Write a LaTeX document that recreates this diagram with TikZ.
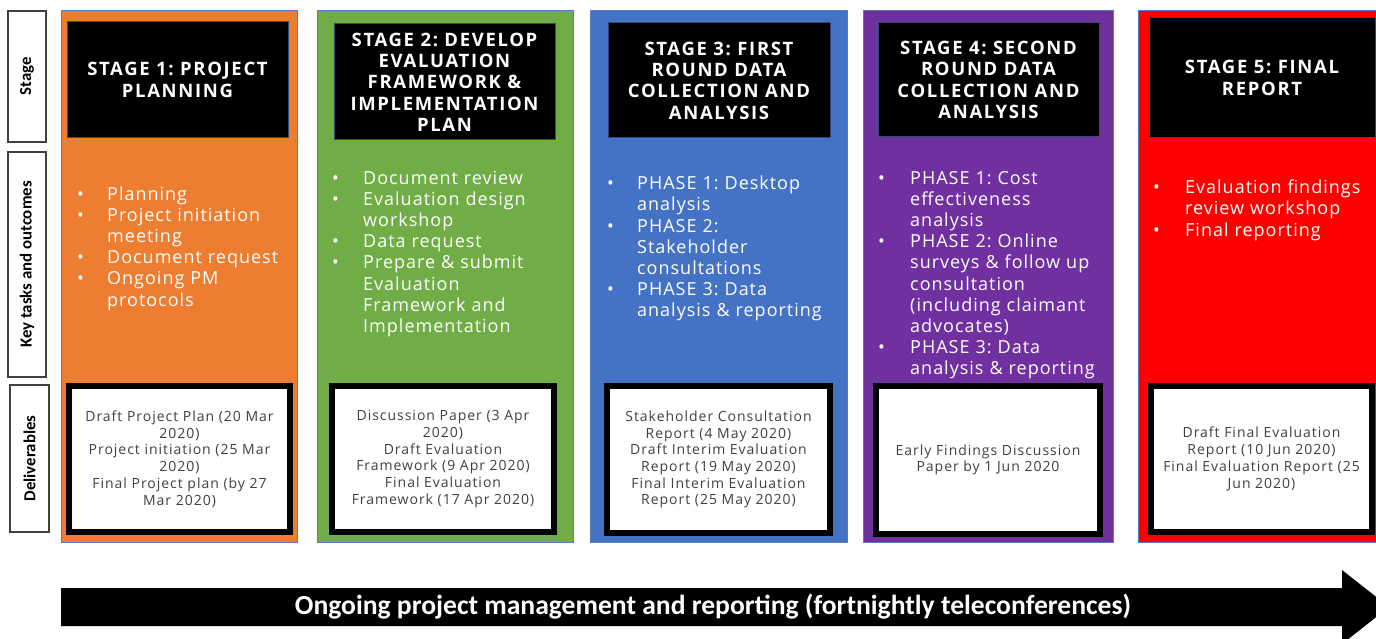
\documentclass[tikz,border=0pt]{standalone}
\usepackage{fontspec}
\setmainfont{Open Sans}
\newfontfamily\calfont{Carlito}
\newfontfamily\headfont{Open Sans}[LetterSpace=9]
\newfontfamily\taskfont{Open Sans}[LetterSpace=5.5]
\newfontfamily\delivfont{Open Sans}[LetterSpace=7]

\definecolor{stOrange}{HTML}{ED7D31}
\definecolor{stGreen}{HTML}{70AD47}
\definecolor{stBlue}{HTML}{4472C4}
\definecolor{stPurple}{HTML}{7030A0}
\definecolor{stRed}{HTML}{FF0000}
\definecolor{edgeBlue}{HTML}{5A7CBA}
\definecolor{headEdge}{HTML}{2F4B7C}
\definecolor{delivText}{HTML}{404040}
\definecolor{labelEdge}{HTML}{404040}

% bullet list item with hanging indent
\newlength\bgap
\setlength\bgap{30pt}
\newcommand\bul[1]{\par\noindent\hangindent=\bgap\hangafter=1\makebox[\bgap][l]{\strut•}#1\par}

\tikzset{
  panel/.style={draw=edgeBlue, line width=1pt, inner sep=0pt, rectangle},
  header/.style={fill=black, draw=headEdge, line width=1pt, text=white, inner sep=0pt,
    align=center, font=\headfont\fontsize{18.5}{21.3}\selectfont\bfseries},
  tasks/.style={anchor=north west, inner sep=0pt, text=white, text width=270pt,
    align=left, font=\taskfont\fontsize{18}{21.2}\selectfont},
  delivbox/.style={fill=white, draw=black, line width=6pt, inner sep=0pt, align=center,
    text=delivText, font=\delivfont\fontsize{14}{16.7}\selectfont},
  sidelabel/.style={draw=labelEdge, fill=white, line width=1.5pt, inner sep=0pt,
    rotate=90, font=\calfont\bfseries\fontsize{16.8}{18}\selectfont},
  pmarrow/.style={fill=black},
  pmtext/.style={text=white, inner sep=0pt, font=\calfont\bfseries\fontsize{27.6}{30}\selectfont}
}

\begin{document}
\frenchspacing
\begin{tikzpicture}[x=1pt,y=-1pt]
\useasboundingbox (0,0) rectangle (1376,639);
\clip (0,0) rectangle (1376,639);

% row labels
\node[sidelabel, minimum width=131pt, minimum height=38pt] (lstage) at (27,76.5) {Stage};
\node[sidelabel, minimum width=225pt, minimum height=38pt] (ltasks) at (27,264.5) {Key tasks and outcomes};
\node[sidelabel, minimum width=147pt, minimum height=39pt] (ldeliv) at (29.5,458.5) {Deliverables};

% stage panels
\node[panel, fill=stOrange, minimum width=236pt, minimum height=531pt] (p1) at (179,276.5) {};
\node[panel, fill=stGreen,  minimum width=256pt, minimum height=531pt] (p2) at (445,276.5) {};
\node[panel, fill=stBlue,   minimum width=257pt, minimum height=531pt] (p3) at (718.5,276.5) {};
\node[panel, fill=stPurple, minimum width=250pt, minimum height=531pt] (p4) at (988,276.5) {};
\node[panel, fill=stRed,    minimum width=252pt, minimum height=531pt] (p5) at (1264,276.5) {};

% stage headers
\node[header, minimum width=221pt, minimum height=116pt] (h1) at (177.5,80) {STAGE 1: PROJECT\\PLANNING};
\node[header, minimum width=221pt, minimum height=116pt] (h2) at (444.5,82) {STAGE 2: DEVELOP\\EVALUATION\\FRAMEWORK \&\\IMPLEMENTATION\\PLAN};
\node[header, minimum width=222pt, minimum height=115pt] (h3) at (719,80.5) {STAGE 3: FIRST\\ROUND DATA\\COLLECTION AND\\ANALYSIS};
\node[header, minimum width=221pt, minimum height=114pt] (h4) at (988.5,80) {STAGE 4: SECOND\\ROUND DATA\\COLLECTION AND\\ANALYSIS};
\node[header, minimum width=226pt, minimum height=120pt] (h5) at (1262,78) {STAGE 5: FINAL\\REPORT};

% key tasks and outcomes
\node[tasks] (t1) at (77,178.8) {\setlength\bgap{30pt}%
  \bul{Planning}%
  \bul{Project initiation\newline meeting}%
  \bul{Document request}%
  \bul{Ongoing PM\newline protocols}};
\node[tasks] (t2) at (332,162.8) {\setlength\bgap{31pt}%
  \bul{Document review}%
  \bul{Evaluation design\newline workshop}%
  \bul{Data request}%
  \bul{Prepare \& submit\newline Evaluation\newline Framework and\newline Implementation}};
\node[tasks] (t3) at (607,168.3) {\setlength\bgap{30pt}%
  \bul{PHASE 1: Desktop\newline analysis}%
  \bul{PHASE 2:\newline Stakeholder\newline consultations}%
  \bul{PHASE 3: Data\newline analysis \& reporting}};
\node[tasks] (t4) at (878,162.8) {\setlength\bgap{32pt}%
  \bul{PHASE 1: Cost\newline effectiveness\newline analysis}%
  \bul{PHASE 2: Online\newline surveys \& follow up\newline consultation\newline (including claimant\newline advocates)}%
  \bul{PHASE 3: Data\newline analysis \& reporting}};
\node[tasks] (t5) at (1153,172.3) {\setlength\bgap{32pt}%
  \bul{Evaluation findings\newline review workshop}%
  \bul{Final reporting}};

% deliverables
\node[delivbox, minimum width=221pt, minimum height=146pt] (d1) at (179.5,459) {Draft Project Plan (20 Mar\\2020)\\Project initiation (25 Mar\\2020)\\Final Project plan (by 27\\Mar 2020)};
\node[delivbox, minimum width=222pt, minimum height=146pt] (d2) at (443,459) {Discussion Paper (3 Apr\\2020)\\Draft Evaluation\\Framework (9 Apr 2020)\\Final Evaluation\\Framework (17 Apr 2020)};
\node[delivbox, minimum width=223pt, minimum height=147pt] (d3) at (718.5,459.5) {Stakeholder Consultation\\Report (4 May 2020)\\Draft Interim Evaluation\\Report (19 May 2020)\\Final Interim Evaluation\\Report (25 May 2020)};
\node[delivbox, minimum width=224pt, minimum height=148pt] (d4) at (988,460) {Early Findings Discussion\\Paper by 1 Jun 2020};
\node[delivbox, minimum width=221pt, minimum height=146pt] (d5) at (1261.5,459) {Draft Final Evaluation\\Report (10 Jun 2020)\\Final Evaluation Report (25\\Jun 2020)};

% ongoing project management arrow
\fill[pmarrow] (61,588) -- (1342,588) -- (1342,570) -- (1389,607) -- (1342,644)
  -- (1342,626) -- (61,626) -- cycle;
\node[pmtext] (pm) at (713,607) {Ongoing project management and reporting (fortnightly teleconferences)};
\end{tikzpicture}
\end{document}
